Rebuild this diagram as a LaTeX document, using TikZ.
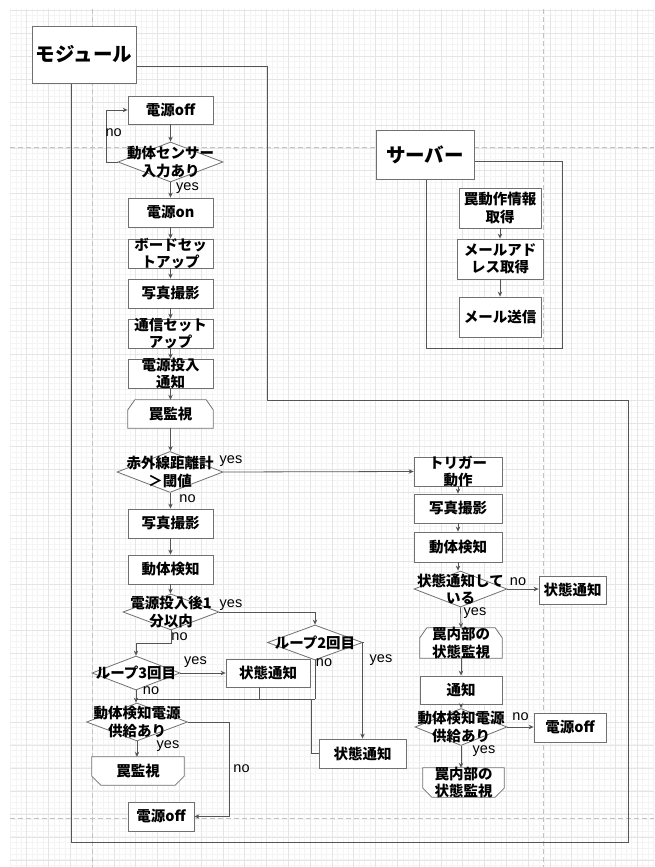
\documentclass[tikz,border=0pt]{standalone}
\usepackage{fontspec}
\setmainfont{Liberation Sans}
\newfontfamily\jp{Noto Sans CJK JP}
\usetikzlibrary{shapes.geometric,arrows.meta}
\definecolor{gridmaj}{HTML}{E5E5E5}
\definecolor{gridmin}{HTML}{F4F4F4}
\definecolor{pagebrk}{HTML}{C2C2C2}
\definecolor{edgec}{HTML}{555555}
\definecolor{borderc}{HTML}{707070}
\tikzset{
  box/.style={draw=borderc, fill=white, line width=0.8pt, inner sep=0pt, rectangle},
  plain/.style={inner sep=0pt, rectangle},
  hexs/.style={draw=borderc, fill=white, line width=0.8pt},
  dia/.style={draw=borderc, fill=white, line width=0.8pt, inner sep=0pt, diamond},
  txt/.style={font=\jp\bfseries\fontsize{14.5}{17.5}\selectfont, align=center, inner sep=0pt, text=black},
  ttl/.style={font=\jp\bfseries\fontsize{19.5}{22}\selectfont, inner sep=0pt, text=black},
  lbl/.style={font=\fontsize{14.5}{16}\selectfont, inner sep=0pt, text=black},
  arr/.style={draw=edgec, line width=0.8pt, -{Stealth[length=5pt,width=4.5pt]}},
  ln/.style={draw=edgec, line width=0.8pt},
  cont/.style={draw=edgec, line width=1pt},
  gmin/.style={draw=gridmin, line width=0.5pt},
  gmaj/.style={draw=gridmaj, line width=0.6pt},
  pg/.style={draw=pagebrk, line width=0.8pt, dash pattern=on 5pt off 3pt},
}
% box: name, cx, cy, w, h, text
\newcommand\bx[6]{%
  \node[box, minimum width=#4pt, minimum height=#5pt] (#1) at (#2,#3) {};
  \node[txt] (#1t) at (#1) {#6};}
% diamond: name, cx, cy, w, h, text
\newcommand\dm[6]{%
  \node[dia, minimum width=#4pt, minimum height=#5pt] (#1) at (#2,#3) {};
  \node[txt] (#1t) at (#1) {#6};}
% loop limit, top corners cut: name, cx, cy, w, h, text
\newcommand\hxtop[6]{%
  \node[plain, minimum width=#4pt, minimum height=#5pt] (#1) at (#2,#3) {};
  \draw[hexs] ([xshift=7pt]#1.north west) -- ([xshift=-7pt]#1.north east)
    -- ([yshift=-10pt]#1.north east) -- (#1.south east) -- (#1.south west)
    -- ([yshift=-10pt]#1.north west) -- cycle;
  \node[txt] (#1t) at (#1) {#6};}
% loop limit, bottom corners cut
\newcommand\hxbot[6]{%
  \node[plain, minimum width=#4pt, minimum height=#5pt] (#1) at (#2,#3) {};
  \draw[hexs] (#1.north west) -- (#1.north east)
    -- ([yshift=9pt]#1.south east) -- ([xshift=-9pt]#1.south east)
    -- ([xshift=9pt]#1.south west) -- ([yshift=9pt]#1.south west) -- cycle;
  \node[txt] (#1t) at (#1) {#6};}
\begin{document}
\begin{tikzpicture}[x=1pt,y=-1pt]
\useasboundingbox (0,0) rectangle (654,867);
\fill[white] (0,0) rectangle (654,867);
% grid
\foreach \i in {0,...,118} \draw[gmin] ({10.35+5.45*\i},9) -- ({10.35+5.45*\i},867);
\foreach \i in {0,...,149} \draw[gmin] (10,{10+5.74*\i}) -- (654,{10+5.74*\i});
\foreach \i in {0,...,28} \draw[gmaj] ({26.7+21.8*\i},9) -- ({26.7+21.8*\i},867);
\foreach \i in {0,...,37} \draw[gmaj] (10,{10+22.97*\i}) -- (654,{10+22.97*\i});
% page breaks
\draw[pg] (92,9) -- (92,867);
\draw[pg] (543,9) -- (543,867);
\draw[pg] (10,147) -- (654,147);
\draw[pg] (10,818) -- (654,818);

% containers
\draw[cont] (136,67) -- (267,67) -- (267,400) -- (628,400) -- (628,842) -- (71,842) -- (71,83);
\draw[cont] (474,161) -- (562,161) -- (562,348) -- (426,348) -- (426,179);

% titles
\node[box, minimum width=104pt, minimum height=57pt] (mod) at (84,54.5) {};
\node[ttl] (modt) at (mod) {モジュール};
\node[box, minimum width=98pt, minimum height=49pt] (srv) at (425,154.5) {};
\node[ttl] (srvt) at (srv) {サーバー};

% server column
\bx{s1}{500}{208}{82}{40}{罠動作情報\\取得}
\bx{s2}{500}{259}{86}{40}{メールアド\\レス取得}
\bx{s3}{500}{317}{82}{40}{メール送信}

% left column
\bx{off1}{170.5}{110}{85}{28}{電源off}
\dm{d1}{170.5}{162}{105}{40}{動体センサー\\入力あり}
\bx{on}{170.5}{212.5}{85}{29}{電源on}
\bx{board}{170.5}{253.5}{85}{29}{ボードセッ\\トアップ}
\bx{photoa}{170.5}{293.5}{85}{29}{写真撮影}
\bx{comm}{170.5}{333.5}{85}{29}{通信セット\\アップ}
\bx{pnotif}{170.5}{373.5}{85}{29}{電源投入\\通知}
\hxtop{trapa}{170.5}{414}{85}{28}{罠監視}
\dm{ir}{170}{472}{106}{41}{赤外線距離計\\＞閾値}
\bx{photob}{170.5}{523.5}{85}{29}{写真撮影}
\bx{motiona}{170.5}{569.5}{85}{29}{動体検知}
\dm{dmin}{171}{612}{96}{36}{電源投入後1\\分以内}
\dm{loopb}{315}{642.5}{95}{35}{ループ2回目}
\dm{loopc}{136}{673}{88}{34}{ループ3回目}
\bx{sta}{268}{673}{84}{28}{状態通知}
\bx{stb}{362.5}{753.5}{87}{29}{状態通知}
\dm{dpow}{137}{722}{101}{38}{動体検知電源\\供給あり}
\hxbot{trapb}{138}{771}{92}{28}{罠監視}
\bx{offb}{161}{816.5}{66}{29}{電源off}

% right column
\bx{trig}{458}{471.5}{88}{29}{トリガー\\動作}
\bx{photoc}{458}{508.5}{88}{29}{写真撮影}
\bx{motionb}{458}{547}{88}{30}{動体検知}
\dm{dst}{460.5}{589}{93}{36}{状態通知して\\いる}
\bx{stc}{572.5}{590}{67}{28}{状態通知}
\hxtop{trapin}{461}{643}{82}{30}{罠内部の\\状態監視}
\bx{notice}{461}{690}{82}{28}{通知}
\dm{dpowb}{461}{727}{92}{37}{動体検知電源\\供給あり}
\bx{offc}{570}{727.5}{72}{29}{電源off}
\hxbot{trapinb}{463.5}{782.5}{81}{29}{罠内部の\\状態監視}

% connectors: server
\draw[arr] (s1.south) -- (s2.north);
\draw[arr] (s2.south) -- (s3.north);

% connectors: left column
\draw[arr] (off1.south) -- (d1.north);
\draw[arr] (d1.west) -- ++(-11,0) |- (off1.west);
\draw[arr] (d1.south) -- (on.north);
\draw[arr] (on.south) -- (board.north);
\draw[arr] (board.south) -- (photoa.north);
\draw[arr] (photoa.south) -- (comm.north);
\draw[arr] (comm.south) -- (pnotif.north);
\draw[arr] (pnotif.south) -- (trapa.north);
\draw[arr] (trapa.south) -- (trapa.south |- ir.north);
\draw[arr] (ir.east) -- (trig.west);
\draw[arr] (ir.south -| photob.north) -- (photob.north);
\draw[arr] (photob.south) -- (motiona.north);
\draw[arr] (motiona.south) -- (motiona.south |- dmin.north);
\draw[arr] (dmin.east) -| (loopb.north);
\draw[arr] (dmin.south) -- ++(0,13) -| (loopc.north);
\draw[arr] (loopc.east) -- (sta.west);
\draw[arr] (loopc.south) -- (loopc.south |- dpow.north);
\coordinate (mL) at (136,699);
\coordinate (mR) at (315,699);
\draw[ln] (mL) -- (mR);
\draw[ln] ([xshift=-9pt]sta.south) -- ([xshift=-9pt]sta.south |- mL);
\draw[ln] (loopb.south) -- (mR);
\draw[ln] ([xshift=-4pt]mR) |- (stb.west);
\draw[arr] (loopb.east) -| (stb.north);
\draw[arr] (dpow.south) -- (dpow.south |- trapb.north);
\draw[arr] (dpow.east) -- (229,722) |- (offb.east);

% connectors: right column
\draw[arr] (trig.south) -- (photoc.north);
\draw[arr] (photoc.south) -- (motionb.north);
\draw[arr] (motionb.south) -- (motionb.south |- dst.north);
\draw[arr] (dst.east) -- (dst.east -| stc.west);
\draw[arr] (dst.south) -- (trapin.north);
\draw[arr] (trapin.south) -- (notice.north);
\draw[arr] (notice.south) -- (dpowb.north);
\draw[arr] (dpowb.east) -- (dpowb.east -| offc.west);
\draw[arr] (dpowb.south) -- (dpowb.south |- trapinb.north);

% labels
\node[lbl] (l1) at (113.7,133) {no};
\node[lbl] (l2) at (187.5,188) {yes};
\node[lbl] (l3) at (231,461) {yes};
\node[lbl] (l4) at (187.5,499) {no};
\node[lbl] (l5) at (231,605) {yes};
\node[lbl] (l6) at (179.5,637) {no};
\node[lbl] (l7) at (195.5,662) {yes};
\node[lbl] (l8) at (151,691) {no};
\node[lbl] (l9) at (324,663) {no};
\node[lbl] (l10) at (381,660) {yes};
\node[lbl] (l11) at (168,746) {yes};
\node[lbl] (l12) at (241.5,769) {no};
\node[lbl] (l13) at (518,582) {no};
\node[lbl] (l14) at (475,613) {yes};
\node[lbl] (l15) at (520.5,717) {no};
\node[lbl] (l16) at (484,751) {yes};
\end{tikzpicture}
\end{document}
